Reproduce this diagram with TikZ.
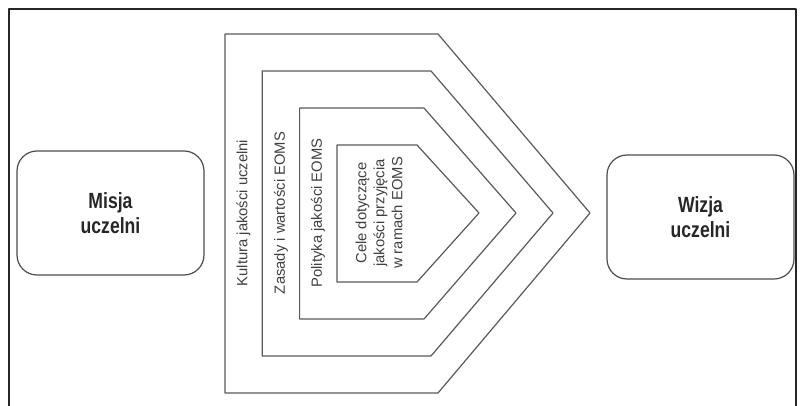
\documentclass[tikz,border=0pt]{standalone}
\usepackage{fontspec}
\setmainfont{Liberation Sans}
\newfontfamily\condfont[FakeStretch=0.8]{Liberation Sans}
\begin{document}
\begin{tikzpicture}[x=0.5pt,y=-0.5pt,line join=round,line cap=round,
    layer/.style={draw=black!65,line width=0.6pt},
    strip/.style={rotate=90,text=black!75,inner sep=0pt,align=center,font=\fontsize{7.4}{9}\selectfont},
    goal/.style={draw=black!70,line width=0.6pt,rounded corners=10pt,minimum width=93.5pt,minimum height=62pt,
      align=center,text=black!85,font=\condfont\bfseries\fontsize{11}{12.5}\selectfont}]
	\useasboundingbox (0,0) rectangle (803,406);
	\draw[black!85,line width=0.8pt] (9,406) -- (9,9) -- (796,9) -- (796,406);
	% nested layers, outermost first
	\foreach \i in {0,...,3}
		\draw[layer] ({225+37.3*\i},{34+37*\i}) -- ({438-7*\i},{34+37*\i}) -- ({590-37*\i},213)
			-- ({438-7*\i},{393-37*\i}) -- ({225+37.3*\i},{393-37*\i}) -- cycle;
	\node[strip] (kultura) at (243.5,213) {Kultura jakości uczelni};
	\node[strip] (zasady) at (281,213) {Zasady i wartości EOMS};
	\node[strip] (polityka) at (318,213) {Polityka jakości EOMS};
	\node[strip] (cele) at (379,213) {Cele dotyczące\\jakości przyjęcia\\w ramach EOMS};
	\node[goal] (misja) at (110.5,213) {Misja\\uczelni};
	\node[goal] (wizja) at (700.5,217) {Wizja\\uczelni};
\end{tikzpicture}
\end{document}
